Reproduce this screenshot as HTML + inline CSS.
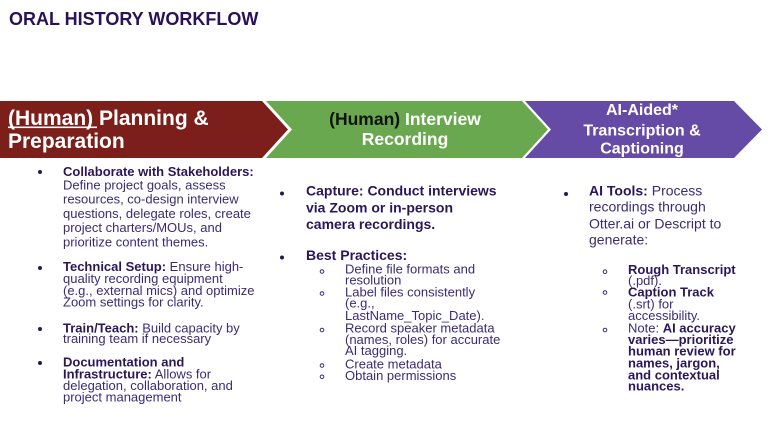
<!DOCTYPE html>
<html><head><meta charset="utf-8"><style>
html,body{margin:0;padding:0;background:#fff;}
svg{display:block;}
text{font-family:"Liberation Sans",Arial,sans-serif;}
.b{font-weight:bold;fill:#2b1659;}
.r{fill:#3c2b74;}
.s13{font-size:13px;}
.s14{font-size:14px;}
</style></head><body>
<svg width="780" height="439" viewBox="0 0 780 439" xmlns="http://www.w3.org/2000/svg">
<rect width="780" height="439" fill="#fff"/>
<text x="9" y="25" style="font-size:18px;font-weight:bold;fill:#2a1258">ORAL HISTORY WORKFLOW</text>

<polygon points="0,101 262,101 288,129.5 262,158 0,158" fill="#7c1e19"/>
<polygon points="266,101 522,101 548,129.5 522,158 266,158 292,129.5" fill="#6aa84f"/>
<polygon points="525,101 734,101 762,129.5 734,158 525,158 551,129.5" fill="#664ba6"/>

<text x="8" y="125" style="font-size:21px;font-weight:bold;fill:#fff">(Human) Planning &amp;</text>
<rect x="8" y="126.5" width="89" height="1.6" fill="#fff"/>
<text x="8" y="148" style="font-size:21px;font-weight:bold;fill:#fff">Preparation</text>

<text x="405" y="125" text-anchor="middle" style="font-size:17.5px;font-weight:bold;fill:#fff"><tspan fill="#111">(Human)</tspan> Interview</text>
<text x="405" y="145" text-anchor="middle" style="font-size:17.5px;font-weight:bold;fill:#fff">Recording</text>

<text x="642" y="115" text-anchor="middle" style="font-size:16px;font-weight:bold;fill:#fff">AI-Aided*</text>
<text x="642" y="135.5" text-anchor="middle" style="font-size:16px;font-weight:bold;fill:#fff">Transcription &amp;</text>
<text x="642" y="153.5" text-anchor="middle" style="font-size:16px;font-weight:bold;fill:#fff">Captioning</text>

<!-- Column 1 -->
<g fill="#2b1659">
<circle cx="40" cy="172" r="2"/>
<circle cx="40" cy="268" r="2"/>
<circle cx="40" cy="329" r="2"/>
<circle cx="40" cy="363" r="2"/>
</g>
<g class="s13">
<text x="63" y="176" class="b">Collaborate with Stakeholders:</text>
<text x="63" y="189.5" class="r">Define project goals, assess</text>
<text x="63" y="203.5" class="r">resources, co-design interview</text>
<text x="63" y="218" class="r">questions, delegate roles, create</text>
<text x="63" y="232" class="r">project charters/MOUs, and</text>
<text x="63" y="246.5" class="r">prioritize content themes.</text>

<text x="63" y="271" class="r"><tspan class="b">Technical Setup:</tspan> Ensure high-</text>
<text x="63" y="283" class="r">quality recording equipment</text>
<text x="63" y="295" class="r">(e.g., external mics) and optimize</text>
<text x="63" y="306.5" class="r">Zoom settings for clarity.</text>

<text x="63" y="332.5" class="r"><tspan class="b">Train/Teach:</tspan> Build capacity by</text>
<text x="63" y="343" class="r">training team if necessary</text>

<text x="63" y="366.5" class="b">Documentation and</text>
<text x="63" y="378.5" class="r"><tspan class="b">Infrastructure:</tspan> Allows for</text>
<text x="63" y="390" class="r">delegation, collaboration, and</text>
<text x="63" y="401.5" class="r">project management</text>
</g>

<!-- Column 2 -->
<g fill="#2b1659">
<circle cx="282" cy="193.5" r="2"/>
<circle cx="282" cy="257.5" r="2"/>
</g>
<g class="s14">
<text x="306" y="195.5" class="b">Capture: Conduct interviews</text>
<text x="306" y="212.3" class="b">via Zoom or in-person</text>
<text x="306" y="229" class="b">camera recordings.</text>
<text x="306" y="260" class="b">Best Practices:</text>
</g>
<g fill="none" stroke="#3c2b74" stroke-width="1">
<circle cx="322" cy="271.5" r="1.8"/>
<circle cx="322" cy="293.5" r="1.8"/>
<circle cx="322" cy="330" r="1.8"/>
<circle cx="322" cy="365.5" r="1.8"/>
<circle cx="322" cy="376.8" r="1.8"/>
</g>
<g class="s13">
<text x="345" y="273.3" class="r">Define file formats and</text>
<text x="345" y="284.3" class="r">resolution</text>
<text x="345" y="296.7" class="r">Label files consistently</text>
<text x="345" y="307.7" class="r">(e.g.,</text>
<text x="345" y="320" class="r">LastName_Topic_Date).</text>
<text x="345" y="332.3" class="r">Record speaker metadata</text>
<text x="345" y="344" class="r">(names, roles) for accurate</text>
<text x="345" y="355" class="r">AI tagging.</text>
<text x="345" y="368.3" class="r">Create metadata</text>
<text x="345" y="380" class="r">Obtain permissions</text>
</g>

<!-- Column 3 -->
<circle cx="566" cy="194" r="2" fill="#2b1659"/>
<g class="s14">
<text x="589" y="195.7" class="r"><tspan class="b">AI Tools:</tspan> Process</text>
<text x="589" y="211.7" class="r">recordings through</text>
<text x="589" y="228.3" class="r">Otter.ai or Descript to</text>
<text x="589" y="244.3" class="r">generate:</text>
</g>
<g fill="none" stroke="#3c2b74" stroke-width="1">
<circle cx="605" cy="271.7" r="1.8"/>
<circle cx="605" cy="292.5" r="1.8"/>
<circle cx="605" cy="330" r="1.8"/>
</g>
<g class="s13">
<text x="628" y="274" class="b">Rough Transcript</text>
<text x="628" y="285" class="r">(.pdf).</text>
<text x="628" y="296.7" class="b">Caption Track</text>
<text x="628" y="308.3" class="r">(.srt) for</text>
<text x="628" y="320" class="r">accessibility.</text>
<text x="628" y="332.3" class="r">Note: <tspan class="b">AI accuracy</tspan></text>
<text x="628" y="344" class="b">varies—prioritize</text>
<text x="628" y="355.7" class="b">human review for</text>
<text x="628" y="367.7" class="b">names, jargon,</text>
<text x="628" y="379.3" class="b">and contextual</text>
<text x="628" y="390.7" class="b">nuances.</text>
</g>
</svg>
</body></html>
